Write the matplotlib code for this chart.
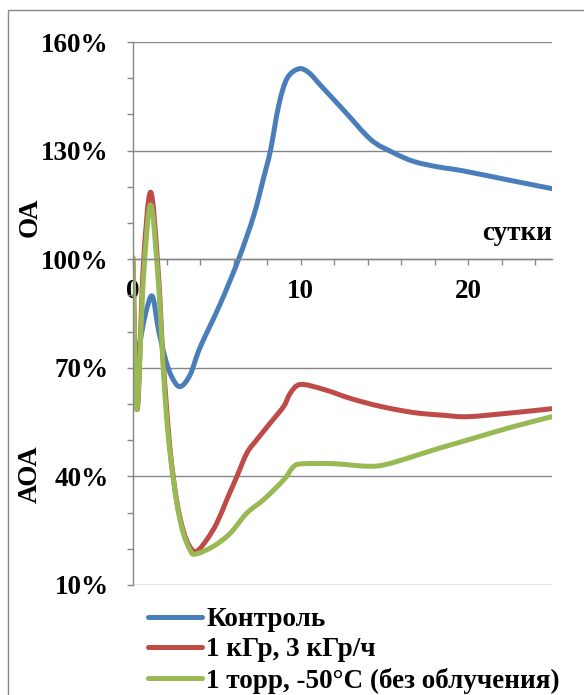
import matplotlib
matplotlib.use("Agg")
import matplotlib.pyplot as plt
from matplotlib.ticker import MultipleLocator, FixedLocator, PercentFormatter
from matplotlib.patches import Rectangle, PathPatch
from matplotlib.path import Path
from matplotlib.lines import Line2D

# values (days, fraction of initial level)
ctrl_days = [0, 0.35, 0.75, 1.15, 1.5, 1.9, 2.3, 2.8, 3.4, 4.0, 5.2, 6.3, 7.2,
             7.8, 8.2, 8.7, 9.2, 9.9, 10.5, 11.2, 12.6, 14.2, 15.5, 16.75,
             18.2, 19.7, 22.7, 25]
ctrl_vals = [0.72, 0.76, 0.85, 0.898, 0.81, 0.73, 0.676, 0.648, 0.68, 0.756,
             0.876, 1.00, 1.12, 1.226, 1.30, 1.426, 1.50, 1.526, 1.515, 1.48,
             1.41, 1.33, 1.295, 1.27, 1.255, 1.244, 1.216, 1.195]

irr_days = [0, 0.25, 0.6, 1.05, 1.5, 1.8, 2.2, 2.6, 3.0, 3.4, 3.8, 4.4, 5.0,
            5.6, 6.2, 6.8, 7.4, 8.2, 9.0, 9.4, 10.0, 11.4, 13.0, 14.8, 16.8,
            18.5, 20.0, 22.7, 25]
irr_vals = [1.00, 0.585, 0.97, 1.185, 0.97, 0.72, 0.48, 0.335, 0.25, 0.205,
            0.193, 0.225, 0.271, 0.336, 0.40, 0.465, 0.502, 0.548, 0.594,
            0.631, 0.654, 0.64, 0.615, 0.593, 0.576, 0.569, 0.565, 0.576,
            0.587]

cold_days = [0, 0.22, 0.62, 1.05, 1.5, 1.81, 2.0, 2.21, 2.61, 3.0, 3.4, 3.71,
             4.8, 5.8, 6.8, 7.8, 9.0, 9.6, 10.2, 12.0, 14.0, 15.0, 16.5, 18.0,
             20.0, 22.5, 25]
cold_vals = [1.005, 0.585, 0.945, 1.15, 0.945, 0.696, 0.566, 0.465, 0.327,
             0.243, 0.197, 0.185, 0.207, 0.243, 0.299, 0.336, 0.391, 0.428,
             0.435, 0.435, 0.428, 0.432, 0.452, 0.474, 0.501, 0.535, 0.565]

labels = ["Контроль", "1 кГр, 3 кГр/ч", "1 торр, -50°C (без облучения)"]
colors = ["#4A7EBB", "#BE4B48", "#98B954"]
y_major = [0.1, 0.4, 0.7, 1.0, 1.3, 1.6]

FS = 19.5


def smooth_path(xs, ys, k=1/6):
    # excel-style smoothed line: cubic bezier through each point
    verts = [(xs[0], ys[0])]
    codes = [Path.MOVETO]
    n = len(xs)
    for i in range(n - 1):
        x0, y0 = (xs[i-1], ys[i-1]) if i > 0 else (xs[i], ys[i])
        x1, y1 = xs[i], ys[i]
        x2, y2 = xs[i+1], ys[i+1]
        x3, y3 = (xs[i+2], ys[i+2]) if i + 2 < n else (x2, y2)
        c1 = (x1 + (x2 - x0) * k, y1 + (y2 - y0) * k)
        c2 = (x2 - (x3 - x1) * k, y2 - (y3 - y1) * k)
        verts += [c1, c2, (x2, y2)]
        codes += [Path.CURVE4] * 3
    return Path(verts, codes)


plt.rcParams["font.family"] = ["Liberation Serif", "DejaVu Serif"]
plt.rcParams["font.weight"] = "bold"

fig = plt.figure(figsize=(5.84, 6.95), dpi=100)
ax = fig.add_axes([133/584, 1 - 585/695, (552-133)/584, (585-42)/695])

# outer chart border (cut off at right/bottom like the source)
fig.patches.append(Rectangle((8/584, -0.05), 1.1, 1 - 10/695 + 0.05,
                             transform=fig.transFigure, fill=False,
                             edgecolor="#888888", linewidth=1.0))

series = [(ctrl_days, ctrl_vals), (irr_days, irr_vals), (cold_days, cold_vals)]
handles = []
for (d, v), lab, col in zip(series, labels, colors):
    ax.add_patch(PathPatch(smooth_path(d, v), facecolor="none", edgecolor=col,
                           linewidth=3.6, capstyle="round", joinstyle="round"))
    handles.append(Line2D([], [], color=col, linewidth=3.6, label=lab,
                          solid_capstyle="round"))

ax.set_xlim(0, 25)
ax.set_ylim(0.1, 1.6)

ax.spines["top"].set_visible(False)
ax.spines["right"].set_visible(False)
ax.spines["bottom"].set_position(("data", 1.0))
for s in ("left", "bottom"):
    ax.spines[s].set_color("#868686")
    ax.spines[s].set_linewidth(1.0)

ax.xaxis.set_major_locator(FixedLocator([0, 10, 20]))
ax.xaxis.set_minor_locator(MultipleLocator(2))
ax.yaxis.set_major_locator(FixedLocator(y_major))
ax.yaxis.set_minor_locator(MultipleLocator(0.1))
ax.yaxis.set_major_formatter(PercentFormatter(1.0, decimals=0))

ax.tick_params(axis="both", which="both", direction="out", length=4.5,
               color="#868686", width=1.0)
ax.tick_params(axis="x", which="major", labelsize=FS, pad=10)
ax.tick_params(axis="y", which="major", labelsize=FS, pad=13)
for t in ax.get_xticklabels() + ax.get_yticklabels():
    t.set_fontweight("bold")

ax.grid(True, axis="y", which="major", color="#868686", linewidth=1.0)
ax.set_axisbelow(True)

ax.text(25, 1.07, "сутки", ha="right", va="center", fontsize=FS,
        fontweight="bold")
fig.text(30/584, 1 - 217/695, "ОА", rotation=90, ha="center", va="center",
         fontsize=FS, fontweight="bold")
fig.text(30/584, 1 - 474/695, "АОА", rotation=90, ha="center", va="center",
         fontsize=FS, fontweight="bold")

fig.legend(handles=handles, loc="upper left",
           bbox_to_anchor=(148/584, 1 - 607/695),
           frameon=False, handlelength=2.0, handletextpad=0.15,
           labelspacing=0.2, borderaxespad=0, borderpad=0,
           prop={"weight": "bold", "size": FS})

fig.savefig("out.png", dpi=100)
